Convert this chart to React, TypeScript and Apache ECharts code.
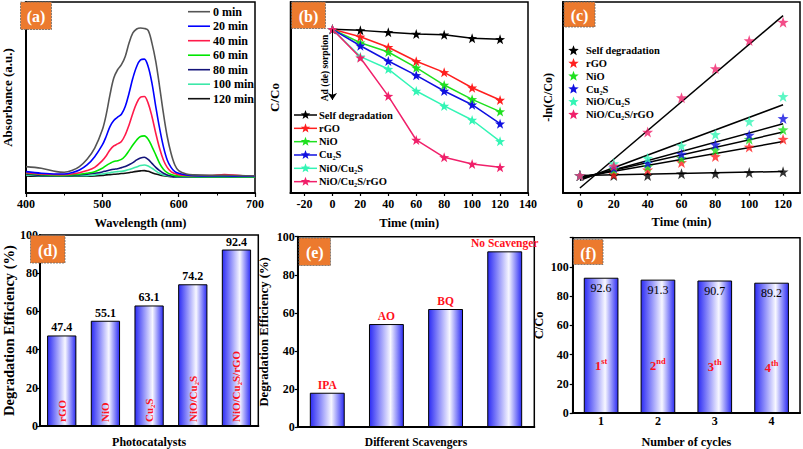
import React, { useEffect, useRef } from 'react';
import * as echarts from 'echarts';

const FONT = '"Liberation Serif", "Times New Roman", serif';

// ---------- (a) UV-vis spectra ----------
const wavelengths = [400, 420, 440, 450, 460, 470, 480, 490, 500, 505, 510, 515, 520, 525, 530, 535, 540, 545, 550, 555, 560, 565, 570, 575, 580, 585, 590, 595, 600, 610, 620, 640, 660, 680, 700];
const spectraLabels = ['0 min', '20 min', '40 min', '60 min', '80 min', '100 min', '120 min'];
const spectraColors = ['#555555', '#0000ff', '#ff1a4a', '#00e600', '#14147a', '#3de8a8', '#111111'];
const abs0 = [0.070, 0.059, 0.036, 0.032, 0.043, 0.070, 0.119, 0.194, 0.318, 0.419, 0.554, 0.667, 0.723, 0.757, 0.813, 0.903, 0.971, 0.998, 1.005, 1.002, 0.989, 0.903, 0.779, 0.610, 0.430, 0.273, 0.160, 0.081, 0.043, 0.020, 0.014, 0.011, 0.011, 0.009, 0.007];
const abs20 = [0.036, 0.025, 0.020, 0.020, 0.029, 0.047, 0.081, 0.137, 0.216, 0.273, 0.340, 0.381, 0.403, 0.423, 0.475, 0.565, 0.667, 0.745, 0.790, 0.795, 0.745, 0.633, 0.475, 0.329, 0.205, 0.115, 0.065, 0.036, 0.025, 0.014, 0.009, 0.007, 0.007, 0.005, 0.005];
const abs40 = [0.029, 0.020, 0.016, 0.016, 0.020, 0.029, 0.043, 0.065, 0.110, 0.142, 0.182, 0.209, 0.223, 0.239, 0.284, 0.351, 0.430, 0.498, 0.538, 0.543, 0.498, 0.408, 0.295, 0.194, 0.115, 0.065, 0.036, 0.023, 0.016, 0.011, 0.009, 0.009, 0.016, 0.009, 0.005];
const abs60 = [0.025, 0.016, 0.011, 0.011, 0.014, 0.018, 0.025, 0.036, 0.059, 0.077, 0.092, 0.104, 0.110, 0.119, 0.142, 0.178, 0.216, 0.250, 0.273, 0.277, 0.255, 0.205, 0.149, 0.092, 0.052, 0.029, 0.016, 0.009, 0.007, 0.005, 0.002, 0.002, 0.002, 0.002, 0.002];
const abs80 = [0.020, 0.011, 0.011, 0.011, 0.011, 0.014, 0.018, 0.025, 0.034, 0.041, 0.047, 0.052, 0.056, 0.063, 0.070, 0.083, 0.097, 0.115, 0.128, 0.133, 0.119, 0.092, 0.065, 0.043, 0.025, 0.014, 0.007, 0.002, 0.002, 0.002, 0.002, 0.002, 0.002, 0.002, 0.002];
const abs100 = [0.014, 0.009, 0.009, 0.009, 0.009, 0.009, 0.009, 0.014, 0.020, 0.025, 0.029, 0.034, 0.036, 0.038, 0.043, 0.050, 0.059, 0.068, 0.077, 0.081, 0.074, 0.059, 0.041, 0.025, 0.014, 0.009, 0.005, 0.002, 0, 0, 0, 0, 0, 0, 0];
const abs120 = [0.007, 0.005, 0.005, 0.005, 0.005, 0.005, 0.005, 0.007, 0.011, 0.014, 0.016, 0.018, 0.020, 0.023, 0.025, 0.029, 0.034, 0.038, 0.041, 0.043, 0.038, 0.029, 0.020, 0.014, 0.009, 0.005, 0.002, 0, 0, 0, 0, 0, 0, 0, 0];
const spectra = [abs0, abs20, abs40, abs60, abs80, abs100, abs120];

// ---------- (b) C/C0 vs time ----------
const times = [0, 20, 40, 60, 80, 100, 120];
const catalysts = ['Self degradation', 'rGO', 'NiO', 'Cu\u2082S', 'NiO/Cu\u2082S', 'NiO/Cu\u2082S/rGO'];
const catColors = ['#000000', '#ff1f1f', '#1fe01f', '#1010e0', '#33f5b5', '#f0206a'];
const ratioSelf = [1, 0.993, 0.98, 0.969, 0.964, 0.94, 0.933];
const ratioRGO = [1, 0.95, 0.88, 0.786, 0.712, 0.609, 0.527];
const ratioNiO = [1, 0.91, 0.848, 0.743, 0.627, 0.531, 0.449];
const ratioCu2S = [1, 0.89, 0.788, 0.692, 0.587, 0.495, 0.368];
const ratioNiOCu2S = [1, 0.817, 0.734, 0.587, 0.487, 0.393, 0.25];
const ratioTernary = [1, 0.81, 0.553, 0.259, 0.143, 0.098, 0.076];
const ratios = [ratioSelf, ratioRGO, ratioNiO, ratioCu2S, ratioNiOCu2S, ratioTernary];

// ---------- (c) kinetics ----------
const lnSelf = [0, 0, 0, 0.03, 0.034, 0.05, 0.062];
const lnRGO = [0, 0.02, 0.095, 0.22, 0.32, 0.48, 0.61];
const lnNiO = [0, 0.10, 0.15, 0.29, 0.43, 0.61, 0.77];
const lnCu2S = [0, 0.13, 0.21, 0.36, 0.52, 0.68, 0.96];
const lnNiOCu2S = [0, 0.2, 0.29, 0.5, 0.69, 0.91, 1.33];
const lnTernary = [0, 0.16, 0.73, 1.31, 1.80, 2.27, 2.58];
const lnData = [lnSelf, lnRGO, lnNiO, lnCu2S, lnNiOCu2S, lnTernary];
const fitTimes = [0, 120];
const fitStart = [0, -0.03, -0.04, -0.06, -0.08, -0.21];
const fitEnd = [0.067, 0.57, 0.73, 0.87, 1.19, 2.69];

// ---------- (d) efficiency ----------
const photocatalysts = ['rGO', 'NiO', 'Cu\u2082S', 'NiO/Cu\u2082S', 'NiO/Cu\u2082S/rGO'];
const efficiency = [47.4, 55.1, 63.1, 74.2, 92.4];

// ---------- (e) scavengers ----------
const scavengers = ['IPA', 'AO', 'BQ', 'No Scavenger'];
const scavEff = [18.0, 54.1, 62.0, 92.3];

// ---------- (f) cycles ----------
const cycles = ['1', '2', '3', '4'];
const cycleVals = [92.6, 91.3, 90.7, 89.2];
const ordinalBase = ['1', '2', '3', '4'];
const ordinalSup = ['st', 'nd', 'th', 'th'];

const STAR = 'path://M12,0L14.9,8.6L24,8.8L16.7,14.2L19.4,22.9L12,17.7L4.6,22.9L7.3,14.2L0,8.8L9.1,8.6Z';

function starPoints(cx: number, cy: number, r: number) {
  const pts: number[][] = [];
  for (let i = 0; i < 10; i++) {
    const a = -Math.PI / 2 + (i * Math.PI) / 5;
    const rr = i % 2 === 0 ? r : r * 0.42;
    pts.push([cx + rr * Math.cos(a), cy + rr * Math.sin(a)]);
  }
  return pts;
}

const font = (size: number, color = '#000') => ({ fontFamily: FONT, fontWeight: 'bold' as const, fontSize: size, color });

function txt(x: number, y: number, text: string, size: number, opts: any = {}) {
  const align = opts.align || 'left';
  const va = opts.va || 'middle';
  return {
    type: 'text',
    x,
    y,
    rotation: opts.rotation || 0,
    z: opts.z || 50,
    style: {
      text,
      fill: opts.fill || '#000',
      font: `bold ${size}px ${FONT}`,
      align,
      verticalAlign: va,
      textAlign: align,
      textVerticalAlign: va,
    },
  };
}

const barGradient = () =>
  new echarts.graphic.LinearGradient(0, 0, 1, 0, [
    { offset: 0, color: '#2c2cf4' },
    { offset: 0.62, color: '#f7f7ff' },
    { offset: 1, color: '#2c2cf4' },
  ]);

export default function App() {
  const ref = useRef<HTMLDivElement>(null);

  useEffect(() => {
    if (!ref.current) return;
    const chart = echarts.init(ref.current, null, { renderer: 'svg' });

    const grids = [
      { left: 19.5, top: 2, width: 235.5, height: 191 },
      { left: 290.5, top: 2, width: 237.5, height: 191 },
      { left: 563, top: 2, width: 237, height: 190.7 },
      { left: 29.3, top: 235, width: 229, height: 194.3 },
      { left: 297.7, top: 236.7, width: 236.6, height: 196.6 },
      { left: 572.7, top: 237.7, width: 227.3, height: 179.6 },
    ].map((g) => ({ ...g, show: true, borderColor: '#000', borderWidth: 1.5, backgroundColor: 'transparent' }));

    const axLine = { show: true, onZero: false, lineStyle: { color: '#000', width: 2 } };
    const tick = (show: boolean, inside = false, len = 3) => ({ show, inside, length: len, lineStyle: { color: '#000', width: 1.2 } });
    const lbl = (show: boolean, margin = 4) => ({ show, margin, ...font(12) });

    const xAxes: any[] = [
      {
        type: 'value', gridIndex: 0, min: 400, max: 700, interval: 100,
        axisLine: axLine, axisTick: tick(true, false, 4), minorTick: { show: true, splitNumber: 2, length: 2.5, lineStyle: { color: '#000', width: 1 } },
        axisLabel: lbl(true, 5), splitLine: { show: false },
        name: 'Wavelength (nm)', nameLocation: 'middle', nameGap: 23, nameTextStyle: font(12.5),
      },
      {
        type: 'value', gridIndex: 1, min: -30, max: 140,
        axisLine: axLine, axisTick: { ...tick(true, false, 3), customValues: [-20, 0, 20, 40, 60, 80, 100, 120, 140] },
        axisLabel: { ...lbl(true, 5), customValues: [-20, 0, 20, 40, 60, 80, 100, 120, 140] }, splitLine: { show: false },
        name: 'Time (min)', nameLocation: 'middle', nameGap: 23, nameTextStyle: font(12.5),
      },
      {
        type: 'value', gridIndex: 2, min: -10, max: 130,
        axisLine: axLine, axisTick: { ...tick(true, false, 3), customValues: [0, 20, 40, 60, 80, 100, 120] },
        axisLabel: { ...lbl(true, 5), customValues: [0, 20, 40, 60, 80, 100, 120] }, splitLine: { show: false },
        name: 'Time (min)', nameLocation: 'middle', nameGap: 23, nameTextStyle: font(12.5),
      },
      {
        type: 'category', gridIndex: 3, data: photocatalysts,
        axisLine: axLine, axisTick: tick(false), axisLabel: lbl(false),
        name: 'Photocatalysts', nameLocation: 'middle', nameGap: 10, nameTextStyle: font(12),
      },
      {
        type: 'category', gridIndex: 4, data: scavengers,
        axisLine: axLine, axisTick: tick(false), axisLabel: lbl(false),
        name: 'Different Scavengers', nameLocation: 'middle', nameGap: 9, nameTextStyle: font(11.5),
      },
      {
        type: 'category', gridIndex: 5, data: cycles,
        axisLine: axLine, axisTick: { ...tick(true, true, 3), alignWithLabel: true }, axisLabel: lbl(true, 2),
        name: 'Number of cycles', nameLocation: 'middle', nameGap: 23, nameTextStyle: font(12.2),
      },
    ];

    const yAxes: any[] = [
      {
        type: 'value', gridIndex: 0, min: -0.108, max: 1.18,
        axisLine: axLine, axisTick: tick(false), axisLabel: lbl(false), splitLine: { show: false },
        name: 'Absorbance (a.u.)', nameLocation: 'middle', nameGap: 12, nameTextStyle: font(13),
      },
      {
        type: 'value', gridIndex: 1, min: -0.096, max: 1.183,
        axisLine: axLine, axisTick: tick(false), axisLabel: lbl(false), splitLine: { show: false },
        name: 'C/Co', nameLocation: 'middle', nameGap: 10, nameTextStyle: font(13),
      },
      {
        type: 'value', gridIndex: 2, min: -0.29, max: 2.92,
        axisLine: axLine, axisTick: tick(false), axisLabel: lbl(false), splitLine: { show: false },
        name: '-ln(C/Co)', nameLocation: 'middle', nameGap: 9, nameTextStyle: font(12),
      },
      {
        type: 'value', gridIndex: 3, min: 0, max: 100, interval: 20,
        axisLine: axLine, axisTick: tick(true, false, 3), axisLabel: lbl(true, 2), splitLine: { show: false },
        name: 'Degradation Efficiency (%)', nameLocation: 'middle', nameGap: 23.5, nameTextStyle: font(14.5),
      },
      {
        type: 'value', gridIndex: 4, min: 0, max: 100, interval: 20,
        axisLine: axLine, axisTick: tick(true, false, 3), axisLabel: lbl(true, 3), splitLine: { show: false },
        name: 'Degradation Efficiency (%)', nameLocation: 'middle', nameGap: 27, nameTextStyle: font(12.7),
      },
      {
        type: 'value', gridIndex: 5, min: 0, max: 120, interval: 20,
        axisLine: axLine, axisTick: tick(true, false, 3),
        axisLabel: { ...lbl(true, 4), formatter: (v: number) => (v > 100 ? '' : String(v)) }, splitLine: { show: false },
        name: 'C/Co', nameLocation: 'middle', nameGap: 27.4, nameTextStyle: font(12.5),
      },
    ];

    const series: any[] = [];

    // (a)
    spectra.forEach((vals, i) => {
      series.push({
        type: 'line', name: spectraLabels[i], xAxisIndex: 0, yAxisIndex: 0,
        data: wavelengths.map((w, k) => [w, vals[k]]),
        smooth: 0.35, showSymbol: false, symbol: 'none',
        lineStyle: { color: spectraColors[i], width: 1.6 },
        z: 2 + (6 - i),
      });
    });

    // (b)
    ratios.forEach((vals, i) => {
      const s: any = {
        type: 'line', name: catalysts[i], xAxisIndex: 1, yAxisIndex: 1,
        data: times.map((t, k) => [t, vals[k]]),
        symbol: STAR, symbolSize: 10,
        lineStyle: { color: catColors[i], width: 1.5 },
        itemStyle: { color: catColors[i] },
      };
      if (i === 0) {
        s.markLine = {
          silent: true,
          symbol: ['none', 'arrow'],
          symbolSize: 7,
          label: { show: false },
          lineStyle: { color: '#000', width: 1, type: 'solid' },
          data: [[{ coord: [0, 1] }, { coord: [0, 0.527] }]],
        };
      }
      series.push(s);
    });

    // (c) fits
    fitStart.forEach((v0, i) => {
      series.push({
        type: 'line', name: catalysts[i] + ' fit', xAxisIndex: 2, yAxisIndex: 2,
        data: [[fitTimes[0], v0], [fitTimes[1], fitEnd[i]]],
        showSymbol: false, symbol: 'none',
        lineStyle: { color: '#000', width: 1.5 },
        z: 2,
      });
    });
    lnData.forEach((vals, i) => {
      series.push({
        type: 'scatter', name: catalysts[i], xAxisIndex: 2, yAxisIndex: 2,
        data: times.map((t, k) => [t, vals[k]]),
        symbol: STAR, symbolSize: 11,
        itemStyle: { color: catColors[i] },
        z: 3,
      });
    });

    // (d)
    series.push({
      type: 'bar', name: 'efficiency', xAxisIndex: 3, yAxisIndex: 3,
      data: efficiency, barWidth: '67%', barGap: '-100%',
      itemStyle: { color: barGradient(), borderColor: '#000', borderWidth: 1 },
      label: { show: true, position: 'top', distance: 2, ...font(12) },
    });
    series.push({
      type: 'bar', name: 'efficiency names', xAxisIndex: 3, yAxisIndex: 3,
      data: efficiency, barWidth: '67%', barGap: '-100%', silent: true,
      itemStyle: { color: 'transparent', borderWidth: 0 },
      label: {
        show: true, position: 'insideBottom', rotate: 90, align: 'left', verticalAlign: 'middle', distance: 4,
        formatter: '{b}', ...font(11, '#ff1020'),
      },
    });

    // (e)
    series.push({
      type: 'bar', name: 'scavengers', xAxisIndex: 4, yAxisIndex: 4,
      data: scavEff, barWidth: '59%',
      itemStyle: { color: barGradient(), borderColor: '#000', borderWidth: 1 },
      label: { show: true, position: 'top', distance: 2, formatter: '{b}', ...font(11.5, '#ff1020') },
    });

    // (f)
    series.push({
      type: 'bar', name: 'cycles', xAxisIndex: 5, yAxisIndex: 5,
      data: cycleVals, barWidth: '61%', barGap: '-100%',
      itemStyle: { color: barGradient(), borderColor: '#000', borderWidth: 1 },
      label: { show: true, position: 'insideTop', distance: 4, fontFamily: FONT, fontWeight: 'normal', fontSize: 12, color: '#000' },
    });
    series.push({
      type: 'bar', name: 'cycle ordinals', xAxisIndex: 5, yAxisIndex: 5,
      data: cycleVals, barWidth: '61%', barGap: '-100%', silent: true,
      itemStyle: { color: 'transparent', borderWidth: 0 },
      label: {
        show: true, position: ['50%', '64%'], align: 'center', verticalAlign: 'middle',
        formatter: (p: any) => `{b|${ordinalBase[p.dataIndex]}}{s|${ordinalSup[p.dataIndex]}}`,
        rich: {
          b: { fontFamily: FONT, fontWeight: 'bold', fontSize: 12.5, color: '#ff1020', lineHeight: 16, verticalAlign: 'bottom' },
          s: { fontFamily: FONT, fontWeight: 'bold', fontSize: 8.5, color: '#ff1020', lineHeight: 16, verticalAlign: 'top' },
        },
      },
    });

    // graphics: panel tags, legends, annotation
    const graphic: any[] = [];
    const boxes = [
      { x: 20.5, y: 2, w: 31, h: 27.5, t: '(a)' },
      { x: 291.5, y: 2, w: 34, h: 26.5, t: '(b)' },
      { x: 564, y: 2, w: 31, h: 25, t: '(c)' },
      { x: 30.5, y: 235.5, w: 34.5, h: 27.5, t: '(d)' },
      { x: 299, y: 238, w: 31.5, h: 27.5, t: '(e)' },
      { x: 573.5, y: 239.5, w: 29.5, h: 25, t: '(f)' },
    ];
    boxes.forEach((b) => {
      graphic.push({
        type: 'rect', z: 60,
        shape: { x: b.x, y: b.y, width: b.w, height: b.h },
        style: { fill: '#ec7a2e', stroke: '#6b6b6b', lineWidth: 0.8, lineDash: [2, 1] },
      });
      graphic.push(txt(b.x + b.w / 2, b.y + b.h / 2 + 1, b.t, 16, { align: 'center', fill: '#ffffff', z: 61 }));
    });

    // (a) legend
    spectraLabels.forEach((name, i) => {
      const y = 11.7 + i * 14.5;
      graphic.push({ type: 'line', z: 50, shape: { x1: 188, y1: y, x2: 210, y2: y }, style: { stroke: spectraColors[i], lineWidth: 1.6 } });
      graphic.push(txt(213, y, name, 12));
    });

    // (b) legend
    catalysts.forEach((name, i) => {
      const y = 115 + i * 13.33;
      graphic.push({ type: 'line', z: 50, shape: { x1: 294, y1: y, x2: 317, y2: y }, style: { stroke: catColors[i], lineWidth: 1.5 } });
      graphic.push({ type: 'polygon', z: 51, shape: { points: starPoints(305.5, y, 5) }, style: { fill: catColors[i] } });
      graphic.push(txt(319, y, name, 10.5));
    });

    // (c) legend
    catalysts.forEach((name, i) => {
      const y = 50.7 + i * 12.8;
      graphic.push({ type: 'polygon', z: 51, shape: { points: starPoints(573.5, y, 5.5) }, style: { fill: catColors[i] } });
      graphic.push(txt(586, y, name, 10.5));
    });

    // (b) annotation
    graphic.push(txt(325, 68, 'Ad (de) sorption', 9.5, { align: 'center', rotation: Math.PI / 2 }));

    chart.setOption({
      animation: false,
      backgroundColor: '#ffffff',
      textStyle: { fontFamily: FONT },
      grid: grids,
      xAxis: xAxes,
      yAxis: yAxes,
      series,
      graphic,
    });

    return () => chart.dispose();
  }, []);

  return <div ref={ref} style={{ position: 'absolute', left: 0, top: 0, width: 803, height: 449, background: '#fff' }} />;
}
